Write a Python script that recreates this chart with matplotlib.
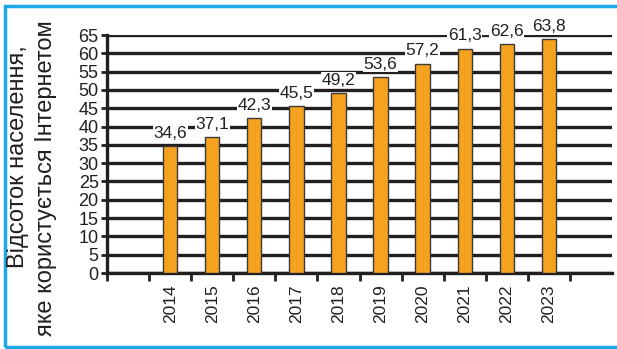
import matplotlib.pyplot as plt
from matplotlib.patches import Rectangle

years = ['2014', '2015', '2016', '2017', '2018', '2019', '2020', '2021', '2022', '2023']
share = [34.6, 37.1, 42.3, 45.5, 49.2, 53.6, 57.2, 61.3, 62.6, 63.8]
labels = ['34,6', '37,1', '42,3', '45,5', '49,2', '53,6', '57,2', '61,3', '62,6', '63,8']

plt.rcParams['font.family'] = ['Liberation Sans', 'DejaVu Sans']
ink = '#231f20'

fig = plt.figure(figsize=(6.17, 3.49), dpi=100)
ax = fig.add_axes([107 / 617, 1 - 273 / 349, 505 / 617, 238 / 349])

pos = list(range(len(years)))
ax.bar(pos, share, width=0.34, color='#f5a31f', edgecolor='#3a3a3a', linewidth=1.0, zorder=3)

# value labels on white boxes, cutting the grid lines
for x, v, t in zip(pos, share, labels):
    ax.text(x, v + 1.4, t, ha='center', va='bottom', fontsize=12.5, color=ink, zorder=4,
            bbox=dict(facecolor='white', edgecolor='none', pad=0.5))

ax.set_ylim(0, 65)
ax.set_xlim(-1.5, len(years) - 0.5 + 1)
ax.set_yticks(range(0, 66, 5))
ax.tick_params(axis='y', labelsize=13, colors=ink, width=2, length=4, pad=2)
ax.yaxis.grid(True, color=ink, linewidth=2.4, zorder=1)
ax.set_axisbelow(True)

# category boundaries get the ticks, years sit between them
ax.set_xticks([p - 0.5 for p in range(0, len(years) + 1)] + [-1.5])
ax.set_xticklabels([])
ax.set_xticks(pos, minor=True)
ax.set_xticklabels(years, minor=True, rotation=90, fontsize=12.5, color=ink)
ax.tick_params(axis='x', which='major', width=2, length=6, color=ink)
ax.tick_params(axis='x', which='minor', length=0, pad=8)

for s in ['top', 'right']:
    ax.spines[s].set_visible(False)
ax.spines['left'].set_linewidth(2.4)
ax.spines['left'].set_color(ink)
ax.spines['bottom'].set_linewidth(2.4)
ax.spines['bottom'].set_color(ink)

# two-line axis title, each line placed on its own
fig.text(18 / 617, 1 - 157 / 349, 'Відсоток населення,', rotation=90,
         ha='center', va='center', fontsize=17, color=ink)
fig.text(46 / 617, 1 - 178 / 349, 'яке користується Інтернетом', rotation=90,
         ha='center', va='center', fontsize=17, color=ink)

# blue frame round the whole figure
fig.patches.append(Rectangle((5, 2.5), 700, 341, transform=None, fill=False,
                             edgecolor='#1ca8e6', linewidth=2.5))

fig.savefig('out.png', dpi=100)
